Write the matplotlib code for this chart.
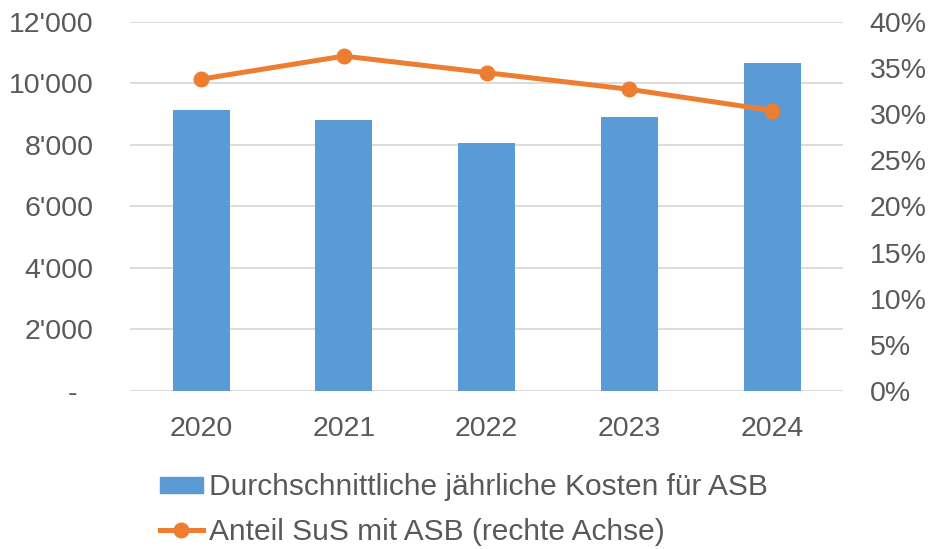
import matplotlib
matplotlib.use("Agg")
from matplotlib import pyplot as plt
from matplotlib.ticker import FuncFormatter
from matplotlib.lines import Line2D
from matplotlib.patches import Patch

years = ["2020", "2021", "2022", "2023", "2024"]
kosten = [9150, 8800, 8050, 8900, 10650]
anteil = [33.8, 36.3, 34.5, 32.7, 30.4]

bar_label = "Durchschnittliche jährliche Kosten für ASB"
line_label = "Anteil SuS mit ASB (rechte Achse)"

blue = "#5b9bd5"
orange = "#ed7d31"
text_color = "#595959"
grid_color = "#d9d9d9"
fs = 20.5

plt.rcParams["font.family"] = ["Liberation Sans", "DejaVu Sans"]

fig = plt.figure(figsize=(9.33, 5.49), dpi=100)
ax = fig.add_axes([0.139, 0.288, 0.765, 0.672])
x = list(range(len(years)))

ax.bar(x, kosten, width=0.4, color=blue, zorder=2)
ax.set_ylim(0, 12000)
ax.set_yticks(range(0, 12001, 2000))
ax.yaxis.set_major_formatter(FuncFormatter(
    lambda v, p: "-  " if v == 0 else f"{int(v):,}".replace(",", "'")))
ax.set_xlim(-0.5, len(years) - 0.5)
ax.set_xticks(x)
ax.set_xticklabels(years)
ax.grid(axis="y", color=grid_color, linewidth=1.3, zorder=0)
for s in ax.spines.values():
    s.set_visible(False)
ax.tick_params(length=0, labelsize=fs, colors=text_color)
ax.tick_params(axis="y", pad=26)
ax.tick_params(axis="x", pad=18)

ax2 = ax.twinx()
ax2.plot(x, anteil, color=orange, linewidth=3.6, marker="o", markersize=10.5, zorder=3)
ax2.set_ylim(0, 40)
ax2.set_yticks(range(0, 41, 5))
ax2.yaxis.set_major_formatter(FuncFormatter(lambda v, p: f"{int(v)}%"))
for s in ax2.spines.values():
    s.set_visible(False)
ax2.tick_params(length=0, labelsize=fs, colors=text_color, pad=19)

handles = [Patch(color=blue),
           Line2D([0], [0], color=orange, linewidth=3.6, marker="o", markersize=10.5)]
fig.legend(handles, [bar_label, line_label], loc="upper left",
           bbox_to_anchor=(0.171, 0.138), frameon=False, fontsize=21.5,
           labelcolor=text_color, handlelength=1.45, handleheight=0.45,
           handletextpad=0.2, labelspacing=0.55, borderaxespad=0, borderpad=0)

fig.savefig("out.png", dpi=100)
